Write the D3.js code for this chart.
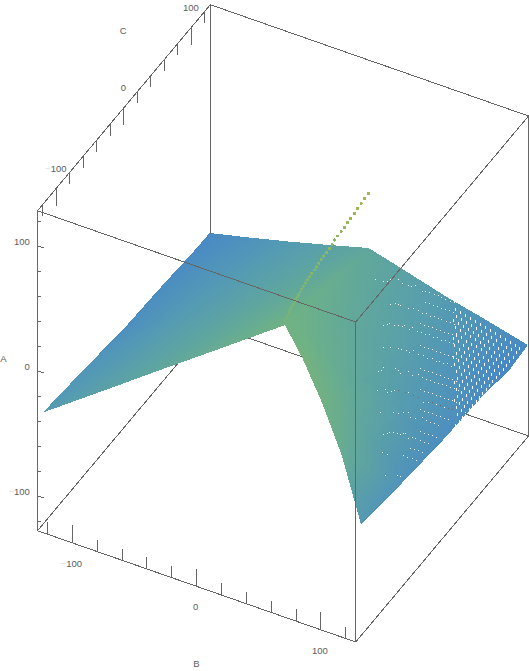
<!DOCTYPE html>
<html>
<head>
<meta charset="utf-8">
<script src="https://cdn.jsdelivr.net/npm/d3@7"></script>
<style>
  body { margin: 0; background: #fff; }
  text { font-family: "Liberation Sans", Arial, sans-serif; font-size: 9.5px; fill: #5c5c5c; }
  .minus { fill: #ddd; }
  .edge, .tick { stroke: #666; stroke-width: 1; fill: none; shape-rendering: crispEdges; }
</style>
</head>
<body>
<svg width="529" height="671"></svg>
<script>
// tick values, same on the three axes
const axisTicks = [-120, -100, -80, -60, -40, -20, 0, 20, 40, 60, 80, 100, 120];
const axisLabels = [-100, 0, 100];
const axisLimit = [-128, 128];

// surface, one list per B column, each with the same number of rows
const surfaceB = [-128, -96, -64, -32, 0, 32, 64, 96, 128];
const surfaceC = [
  [-120, -60, 0, 60, 100, 127],
  [-90, -45, 0, 45, 90, 127],
  [-60, -30, 0, 40, 85, 127],
  [-30, -15, 0, 40, 85, 127],
  [3, 15, 30, 60, 95, 127],
  [-30, -15, 0, 40, 85, 127],
  [-60, -30, 0, 40, 85, 127],
  [-90, -45, 0, 45, 90, 127],
  [-120, -60, 0, 60, 100, 127]
];
const surfaceA = [
  [-38.6, -43.2, -48.7, -51, -53.5, -54],
  [-29.5, -34, -38, -41, -44, -46.5],
  [-20.2, -24, -27, -31, -35, -38.6],
  [-11.2, -13.5, -15.5, -20, -25, -30.2],
  [-3.3, -5, -7, -11, -16, -21.5],
  [2.4, -5, -11, -19, -25, -30.2],
  [-2.7, -14, -23, -30, -35, -39.2],
  [-13.8, -28, -37, -42, -45, -46.5],
  [-39.3, -44.9, -49.6, -52.2, -57, -54.6]
];

// the thin line of points standing up from the apex (B = 0)
const ridgeC = [126.5, 120.6, 115.7, 110.2, 105.8, 99.9, 95.4, 91, 86.1, 81.2, 76.7, 72.7, 68.7, 64.3, 59.9, 56.4, 53, 49.5, 46.1, 42.7, 39.7, 36.7, 33.2, 30.8, 27.9, 25.3, 23, 21, 19, 17, 15, 13, 11, 9, 7, 5, 3];
const ridgeA = [22.6, 22.4, 21.2, 20.8, 19.9, 19.7, 19.1, 18.2, 17.9, 17.6, 17.3, 16.4, 15.8, 15.4, 15.3, 14.6, 13.9, 13.2, 13, 12.5, 11.7, 11.1, 10.9, 10, 9.5, 8.8, 8.2, 7.6, 7, 6.2, 5.6, 5, 4, 3, 2, 1, 0];

// gaps in the point cloud, the arcs
const holeRowC = [100, 80, 60, 40, 30, 20, 0, -10, -20, -30];
const holeRowB = [
  [19.8, 26, 29, 32, 38, 41.5, 46, 49, 52, 57.5, 60, 63, 67, 70, 73, 76, 80, 83],
  [42.7, 46.7, 49, 50.7, 57, 61, 65, 68, 71.5, 75, 78, 81, 84, 87.5, 91, 94],
  [48, 51, 53, 57, 60, 63.5, 65, 68.5, 71.5, 75, 78.5, 81.5, 85, 88, 91, 94.5, 97.5, 101, 104],
  [59, 64, 71, 73, 77, 80, 83, 87, 91, 94, 98, 101, 104, 107, 110, 113.5],
  [60.3, 62.7, 64.3, 74, 76.4, 78, 84.4, 87.6, 92.5, 95.6, 98.8, 102, 105.3, 108.5, 111.7, 115, 118, 121.4, 124.6],
  [64.9, 71.3, 72.9, 76.1, 78.5, 81.7, 87.4, 89.8, 93.8, 97.8, 101.8, 105.8, 109, 112.3, 115.5, 118.7, 121.9, 125.1],
  [78.1, 88.5, 92.6, 96.6, 100.6, 102.2, 106.2, 111.8, 115, 118.2, 121.4, 124.6],
  [85.9, 89.1, 90.7, 93.9, 97.1, 99.5, 101.9, 103.5, 105.9, 109.1, 111.5, 115.5, 118.7, 122],
  [90.6, 94.6, 107.4, 110.6, 114.6, 117.8],
  [98.4, 108, 110.4]
];
const holeRowA = [
  [-22, -21.4, -20.5, -17.8, -15.5, -17.6, -17.6, -17.2, -15.6, -18.4, -17.6, -17.3, -17.6, -17.6, -17.6, -18.4, -18.4, -18.4],
  [-21.2, -18.8, -18.6, -19.4, -19.4, -17.8, -18.6, -19.4, -18.6, -19.4, -18.6, -19.4, -18.6, -19.4, -18.6, -19.4],
  [-23.5, -21.3, -20.3, -20.3, -19.1, -18.7, -17.4, -19.5, -16.7, -18.7, -17.9, -18.7, -17.9, -18.7, -17.9, -18.7, -17.9, -18.7, -17.9],
  [-24.4, -22.5, -20.8, -20.7, -20.4, -20.9, -18.2, -20.4, -19.6, -20.4, -19.6, -20.4, -19.6, -20.4, -19.6, -20.4],
  [-36.1, -34.8, -32.1, -29.5, -30, -32.1, -27.9, -30.1, -27.6, -28.9, -29.3, -28.9, -29.3, -28.9, -29.3, -28.9, -29.3, -28.9, -29.3],
  [-43.6, -40.8, -42.2, -40.3, -38.8, -37.7, -37.2, -36.4, -37.6, -37.5, -40.1, -38.8, -38.2, -38.2, -38.2, -38.2, -38.2, -38.2],
  [-44, -40.4, -39.3, -37.6, -36.2, -39.1, -39, -35.8, -37.6, -37.6, -37.6, -37.6],
  [-52.4, -50.5, -49.1, -47.5, -47.2, -47.6, -46, -45.4, -48.6, -46.6, -46.6, -46.8, -46.8, -46.8],
  [-58.4, -58.4, -55.2, -55.2, -55.2, -55.2],
  [-67.8, -64.6, -64.6]
];

// gaps between the arcs, one height per row
const midRowC = [90, 70, 50, 35, 25, 10, -5, -15];
const midRowA = [-18.1, -19.8, -20.8, -26.7, -35.2, -38.6, -43.8, -51.4];
const midRowB = [
  [65.5, 68.7, 71.9, 75.1, 78.3, 81.5, 84.7, 87.9],
  [72.3, 75.5, 78.7, 81.9, 85.1, 88.3, 91.5, 94.7, 97.9, 101.2],
  [83.2, 86.4, 89.6, 92.8, 96, 99.2, 102.4, 105.6, 108.8, 112.1],
  [91.4, 94.6, 97.8, 101, 104.2, 107.4, 110.6, 113.8, 117, 120.3],
  [96.8, 100, 103.2, 106.4, 109.6, 112.8, 116, 119.2, 122.4, 125.7],
  [104.9, 108.1, 111.3, 114.5, 117.7, 120.9, 124.1, 127.3],
  [113, 116.2, 119.4, 122.6, 125.8],
  [110.4, 113.5, 116.7, 120]
];

// gaps again, the regular part toward the far corner
const latticeB = [72, 76, 80, 84, 88, 92, 96, 100, 104, 108, 112, 116, 120, 124];
const latticeA = [-41.4, -42.5, -43.5, -44.5, -45.5, -46.6, -47.6, -48.6, -49.6, -50.6, -51.7, -52.7, -53.7, -54.7];
const latticeCount = [1, 3, 4, 6, 7, 9, 10, 11, 13, 14, 16, 17, 18, 20];
const latticeC = [122, 117, 112, 107, 102, 97, 92, 87, 82, 77, 72, 67, 62, 57, 52, 47, 42, 37, 32, 27];

const rampA = [-57, -48, -39, -22, -5, 10, 25];
const rampColors = ['#4887c6', '#4d90bf', '#559bb3', '#5fa69e', '#6eb285', '#80b574', '#a6b94c'];

const svg = d3.select('svg');
const color = d3.scaleLinear().domain(rampA).range(rampColors);

// fixed view of the box: each data axis moves the picture by its own amount
const scaleAy = d3.scaleLinear().domain(axisLimit).range([320, 0]);
const scaleBx = d3.scaleLinear().domain(axisLimit).range([0, 318.2]);
const scaleBy = d3.scaleLinear().domain(axisLimit).range([0, 111.3]);
const scaleCx = d3.scaleLinear().domain(axisLimit).range([0, 172.8]);
const scaleCy = d3.scaleLinear().domain(axisLimit).range([0, -206]);

function project(a, b, c) {
  return [37.5 + scaleBx(b) + scaleCx(c), 210.7 + scaleAy(a) + scaleBy(b) + scaleCy(c)];
}

function drawLine(parent, cls, p, q) {
  const s = project(...p), e = project(...q);
  parent.append('line')
    .attr('class', cls)
    .attr('x1', s[0]).attr('y1', s[1])
    .attr('x2', e[0]).attr('y2', e[1]);
}

const lo = axisLimit[0], hi = axisLimit[1];

// box edges that the surface hides
const back = svg.append('g');
[
  [[hi, lo, hi], [lo, lo, hi]],
  [[lo, lo, hi], [lo, hi, hi]],
  [[lo, lo, lo], [lo, lo, hi]]
].forEach(e => drawLine(back, 'edge', e[0], e[1]));

// mask with the gaps cut out, so the back edges show through them
const defs = svg.append('defs');
const mask = defs.append('mask').attr('id', 'gaps')
  .attr('maskUnits', 'userSpaceOnUse')
  .attr('x', 0).attr('y', 0).attr('width', 529).attr('height', 671);
mask.append('rect').attr('width', 529).attr('height', 671).attr('fill', '#fff');

const holes = mask.append('g').attr('fill', '#000').attr('shape-rendering', 'crispEdges');
function addHole(a, b, c, h) {
  const p = project(a, b, c);
  holes.append('rect')
    .attr('x', Math.round(p[0])).attr('y', Math.round(p[1]))
    .attr('width', 1).attr('height', h);
}
holeRowB.forEach((row, i) => row.forEach((b, k) => addHole(holeRowA[i][k], b, holeRowC[i], 1)));
midRowB.forEach((row, i) => row.forEach(b => addHole(midRowA[i], b, midRowC[i], 1)));
latticeB.forEach((b, j) => {
  latticeC.slice(0, latticeCount[j]).forEach(c => addHole(latticeA[j], b, c, 3));
});

// one triangle of the surface, its colour running straight across it
let gradId = 0;
function drawTriangle(parent, verts) {
  const pts = verts.map(v => project(v[0], v[1], v[2]));
  const vals = verts.map(v => v[0]);
  const ux = pts[1][0] - pts[0][0], uy = pts[1][1] - pts[0][1];
  const vx = pts[2][0] - pts[0][0], vy = pts[2][1] - pts[0][1];
  const du = vals[1] - vals[0], dv = vals[2] - vals[0];
  const det = ux * vy - uy * vx;
  let fill = color(d3.mean(vals));
  if (Math.abs(det) > 1e-6 && (du !== 0 || dv !== 0)) {
    const gx = (du * vy - dv * uy) / det;
    const gy = (dv * ux - du * vx) / det;
    const g2 = gx * gx + gy * gy;
    const k = d3.extent(vals);
    // foot points on the gradient line for the lowest and highest value
    const x1 = pts[0][0] + gx * (k[0] - vals[0]) / g2, y1 = pts[0][1] + gy * (k[0] - vals[0]) / g2;
    const x2 = pts[0][0] + gx * (k[1] - vals[0]) / g2, y2 = pts[0][1] + gy * (k[1] - vals[0]) / g2;
    const id = 'tri' + (gradId++);
    const lg = defs.append('linearGradient').attr('id', id)
      .attr('gradientUnits', 'userSpaceOnUse')
      .attr('x1', x1).attr('y1', y1).attr('x2', x2).attr('y2', y2);
    lg.append('stop').attr('offset', 0).attr('stop-color', color(k[0]));
    lg.append('stop').attr('offset', 1).attr('stop-color', color(k[1]));
    fill = `url(#${id})`;
  }
  parent.append('polygon')
    .attr('points', pts.map(p => p.join(',')).join(' '))
    .attr('fill', fill);
}

const surface = svg.append('g')
  .attr('mask', 'url(#gaps)')
  .attr('shape-rendering', 'crispEdges');

function vertex(i, j) {
  return [surfaceA[i][j], surfaceB[i], surfaceC[i][j]];
}
for (let i = 0; i < surfaceB.length - 1; i++) {
  for (let j = 0; j < surfaceC[i].length - 1; j++) {
    drawTriangle(surface, [vertex(i, j), vertex(i + 1, j), vertex(i + 1, j + 1)]);
    drawTriangle(surface, [vertex(i, j), vertex(i + 1, j + 1), vertex(i, j + 1)]);
  }
}

// ridge points
svg.append('g').attr('shape-rendering', 'crispEdges')
  .selectAll('circle')
  .data(ridgeC)
  .enter()
  .append('circle')
  .attr('cx', (c) => project(0, 0, c)[0])
  .attr('cy', (c, i) => project(ridgeA[i], 0, c)[1])
  .attr('r', 1.6)
  .attr('fill', (c, i) => color(ridgeA[i]));

// box edges in front
const front = svg.append('g');
[
  [[hi, lo, lo], [hi, hi, lo]],
  [[hi, hi, lo], [lo, hi, lo]],
  [[hi, hi, lo], [hi, hi, hi]],
  [[hi, lo, lo], [lo, lo, lo]],
  [[lo, lo, lo], [lo, hi, lo]],
  [[hi, lo, lo], [hi, lo, hi]],
  [[hi, lo, hi], [hi, hi, hi]],
  [[hi, hi, hi], [lo, hi, hi]],
  [[lo, hi, hi], [lo, hi, lo]]
].forEach(e => drawLine(front, 'edge', e[0], e[1]));

// ticks
axisTicks.forEach(t => {
  const major = axisLabels.includes(t);
  const upLen = major ? 14 : 9.4;
  const sideLen = major ? 5 : 3;
  drawLine(front, 'tick', [t, lo, lo], [t, lo + sideLen, lo]);
  drawLine(front, 'tick', [lo, t, lo], [lo + upLen, t, lo]);
  drawLine(front, 'tick', [hi, lo, t], [hi - upLen, lo, t]);
});

function drawLabel(x, y, value, anchor) {
  const label = svg.append('text')
    .attr('x', x).attr('y', y)
    .attr('text-anchor', anchor);
  if (value < 0) label.append('tspan').attr('class', 'minus').text('\u2212');
  label.append('tspan').text(Math.abs(value));
}

axisLabels.forEach(t => {
  const pa = project(t, lo, lo);
  drawLabel(29.8, pa[1] - 0.7, t, 'end');
  const pb = project(lo, t, lo);
  drawLabel(pb[0] - 1, pb[1] + 24, t, 'middle');
  const pc = project(hi, lo, t);
  drawLabel(pc[0] - 0.5, pc[1] - 16.5, t, 'middle');
});

const titles = [['A', 3.3, 362], ['B', 196.3, 667], ['C', 123.3, 34]];
svg.selectAll('.title')
  .data(titles)
  .enter()
  .append('text')
  .attr('class', 'title')
  .attr('x', d => d[1])
  .attr('y', d => d[2])
  .attr('text-anchor', 'middle')
  .text(d => d[0]);
</script>
</body>
</html>
